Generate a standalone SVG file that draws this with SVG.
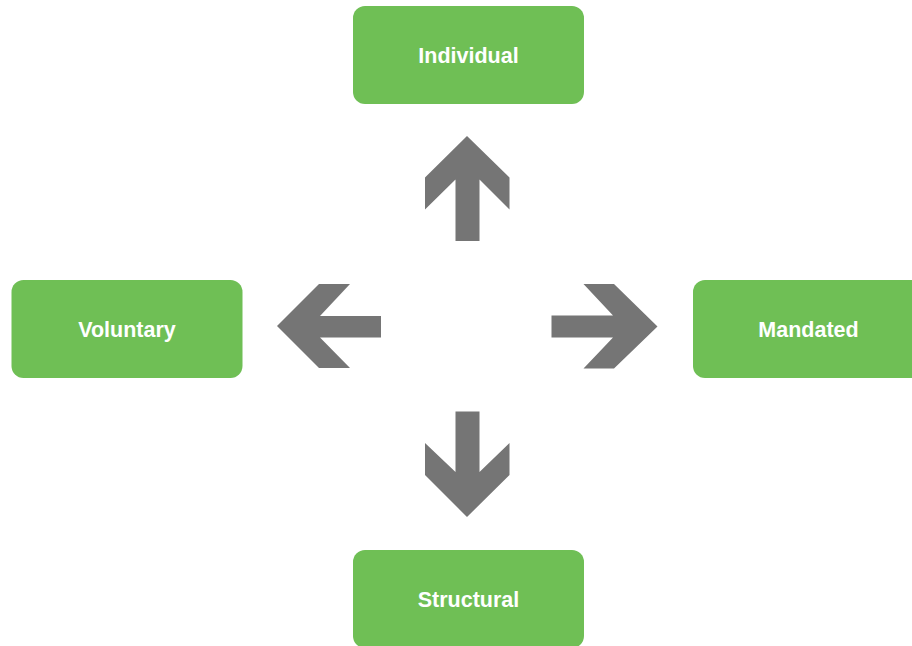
<svg xmlns="http://www.w3.org/2000/svg" width="912" height="646" viewBox="0 0 912 646">
<style>
.box{fill:#6fbf55}
.lbl{font-family:"Liberation Sans",Arial,sans-serif;font-weight:bold;font-size:21.5px;fill:#ffffff;text-anchor:middle}
.arr{fill:#757575}
</style>
<rect width="912" height="646" fill="#ffffff"/>
<g id="connectors">
<polygon class="arr" points="467,136 509.5,177.5 509.5,209.5 479.5,179.5 479.5,241 455.5,241 455.5,179.5 425,209.5 425,177.5"/>
<polygon class="arr" points="277,326 319,284 350,284 320,316 381,316 381,337.5 320,337.5 350,368 319,368"/>
<polygon class="arr" points="657.5,326.5 614,284 583.5,284 613,315.5 551.5,315.5 551.5,337.5 613,337.5 583.5,368.5 614,368.5"/>
<polygon class="arr" points="467,517 509.5,475 509.5,443 479.5,472 479.5,411.5 455.5,411.5 455.5,472 425,443 425,475"/>
</g>
<g id="individual">
<rect class="box" x="353" y="6" width="231" height="98" rx="12"/>
<text class="lbl" x="468.5" y="63">Individual</text>
</g>
<g id="voluntary">
<rect class="box" x="11.5" y="280" width="231" height="98" rx="12"/>
<text class="lbl" x="127" y="337">Voluntary</text>
</g>
<g id="mandated">
<rect class="box" x="693" y="280" width="231" height="98" rx="12"/>
<text class="lbl" x="808.5" y="337">Mandated</text>
</g>
<g id="structural">
<rect class="box" x="353" y="550" width="231" height="98" rx="12"/>
<text class="lbl" x="468.5" y="607">Structural</text>
</g>
</svg>
